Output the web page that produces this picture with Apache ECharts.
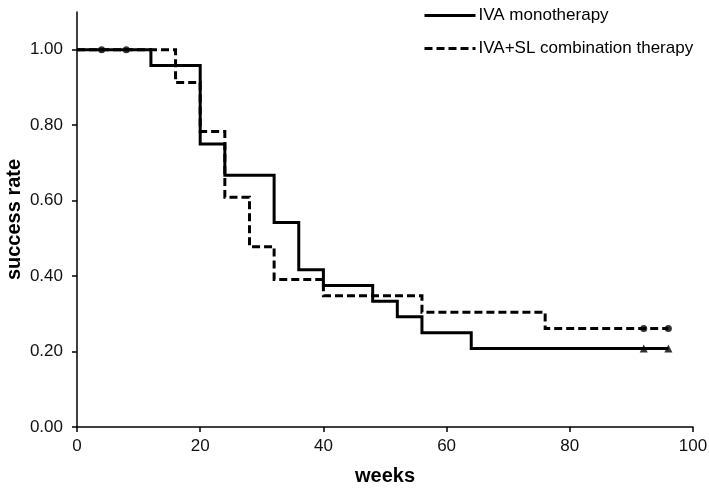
<!DOCTYPE html>
<html><head><meta charset="utf-8">
<script src="https://cdn.jsdelivr.net/npm/echarts@6/dist/echarts.min.js"></script>
<style>html,body{margin:0;padding:0;background:#fff}#c{width:709px;height:491px}</style>
</head><body><div id="c"></div>
<script>
// IVA monotherapy: step-change times (weeks) and survival values
const monoWeeks  = [0, 12, 20, 24, 32, 36, 40, 48, 52, 56, 64, 96];
const monoValues = [1.000, 0.958, 0.750, 0.667, 0.542, 0.417, 0.375, 0.333, 0.292, 0.250, 0.208, 0.208];
// IVA+SL combination therapy
const comboWeeks  = [0, 16, 20, 24, 28, 32, 40, 56, 76, 96];
const comboValues = [1.000, 0.913, 0.783, 0.609, 0.478, 0.391, 0.348, 0.304, 0.261, 0.261];
// censor marks
const monoCensorWeeks = [92, 96];
const monoCensorValues = [0.208, 0.208];
const comboCensorWeeks = [4, 8, 92, 96];
const comboCensorValues = [1.000, 1.000, 0.261, 0.261];
const seriesNames = ['IVA monotherapy', 'IVA+SL combination therapy'];
const yTicks = [0, 0.2, 0.4, 0.6, 0.8, 1.0];

const zip = (a, b) => a.map((x, i) => [x, b[i]]);
const font = 'Liberation Sans, Arial, sans-serif';

const chart = echarts.init(document.getElementById('c'), null, {renderer: 'canvas'});
chart.setOption({
  animation: false,
  backgroundColor: '#fff',
  grid: {left: 77, right: 16, top: 12, bottom: 64, containLabel: false, outerBoundsMode: 'none'},
  legend: {
    orient: 'vertical', left: 418, top: 2, itemGap: 16,
    itemWidth: 51, itemHeight: 18,
    itemStyle: {opacity: 0, borderWidth: 0},
    lineStyle: {width: 3, color: '#000'},
    textStyle: {fontFamily: font, fontSize: 17, color: '#000', padding: [0, 0, 0, -2]},
    data: [seriesNames[0], seriesNames[1]]
  },
  xAxis: {
    type: 'value', min: 0, max: 100, interval: 20,
    name: 'weeks', nameLocation: 'middle', nameGap: 39,
    nameTextStyle: {fontFamily: font, fontSize: 20, fontWeight: 'bold', color: '#000'},
    axisLine: {onZero: false, lineStyle: {color: '#000', width: 1.5}},
    axisTick: {show: true, length: 5, inside: false, lineStyle: {color: '#000', width: 1.5}},
    axisLabel: {fontFamily: font, fontSize: 17, color: '#111', margin: 11},
    splitLine: {show: false}
  },
  yAxis: {
    type: 'value', min: 0, max: 1.1,
    name: 'success rate', nameLocation: 'middle', nameGap: 53, nameRotate: 90,
    nameMoveOverlap: false,
    nameTextStyle: {fontFamily: font, fontSize: 20, fontWeight: 'bold', color: '#000'},
    axisLine: {show: true, onZero: false, lineStyle: {color: '#000', width: 1.5}},
    axisTick: {show: true, length: 5, customValues: yTicks, lineStyle: {color: '#000', width: 1.5}},
    axisLabel: {fontFamily: font, fontSize: 17, color: '#111', margin: 14,
      customValues: yTicks, formatter: v => v.toFixed(2)},
    splitLine: {show: false}
  },
  series: [
    {
      name: seriesNames[0], type: 'line', step: 'end', symbol: 'none',
      data: zip(monoWeeks, monoValues),
      lineStyle: {color: '#000', width: 3, type: 'solid', cap: 'butt', join: 'miter'},
      itemStyle: {color: '#000'}, z: 3
    },
    {
      name: seriesNames[1], type: 'line', step: 'end', symbol: 'none',
      data: zip(comboWeeks, comboValues),
      lineStyle: {color: '#000', width: 3, type: [8, 4], cap: 'butt', join: 'miter'},
      itemStyle: {color: '#000'}, z: 2
    },
    {
      name: 'mono censored', type: 'scatter', symbol: 'triangle', symbolSize: 8,
      data: zip(monoCensorWeeks, monoCensorValues), itemStyle: {color: '#000'}, z: 4
    },
    {
      name: 'combo censored', type: 'scatter', symbol: 'circle', symbolSize: 7,
      data: zip(comboCensorWeeks, comboCensorValues), itemStyle: {color: '#000'}, z: 4
    }
  ]
});
</script></body></html>
